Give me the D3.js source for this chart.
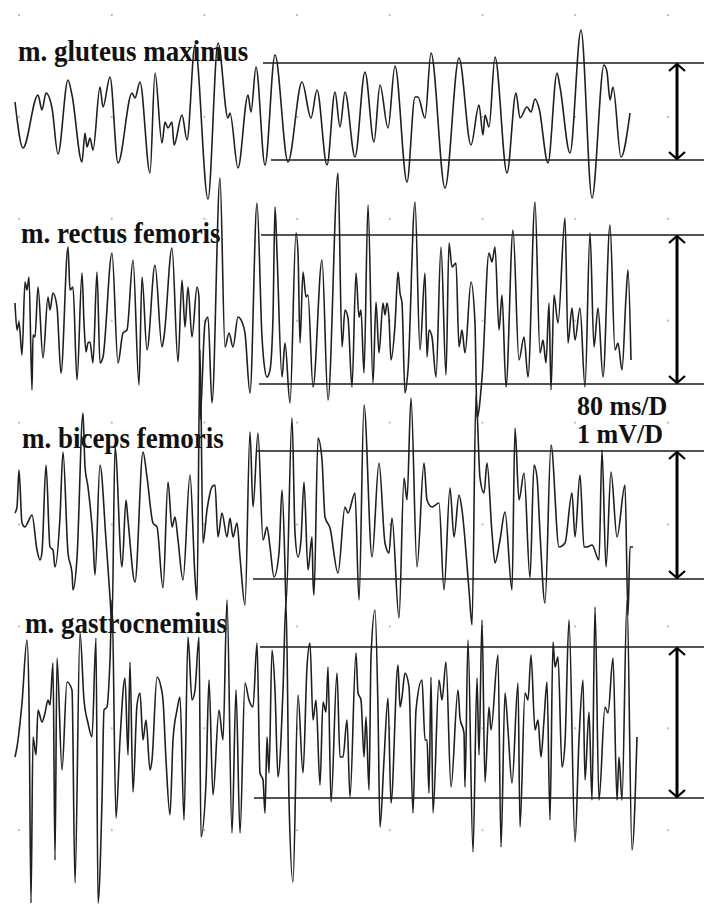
<!DOCTYPE html>
<html><head><meta charset="utf-8">
<script src="https://cdn.jsdelivr.net/npm/d3@7"></script>
<style>html,body{margin:0;padding:0;background:#fff;} svg{display:block;}</style>
</head><body>
<svg id="chart" width="704" height="906"></svg>
<script>
// ---------- DATA ----------
const muscles = ["m. gluteus maximus", "m. rectus femoris", "m. biceps femoris", "m. gastrocnemius"];
const scaleLabels = ["80 ms/D", "1 mV/D"];
const msPerDiv = 80;          // time per division
const mvPerDiv = 1;           // amplitude per division
const gridTimes = [0, 80, 160, 240, 320, 400, 480, 560];   // ms
const gridLevels = [0, 1, 2, 3, 4, 5, 6, 7, 8];            // divisions down the screen
const samplePeriodMs = 80 / 92.7;  // sample interval (ms)
const firstSample = -5;            // sample index offset of trace start before t = 0

// extrema of each trace: sample index and amplitude (µV)
const gluteusSample = [1,9,24,28,32,38,44,54,58,68,71,73,76,79,86,89,96,104,118,121,126,136,141,148,151,154,158,160,168,173,181,194,204,214,216,224,234,237,242,251,261,274,288,297,303,313,321,326,331,341,351,360,366,374,381,393,401,404,411,417,431,445,457,465,469,471,475,481,493,502,506,513,517,521,525,534,543,546,556,567,578,590,593,596,599,607,616];
const gluteusUv = [95,-365,165,15,185,35,-425,315,165,-505,-215,-355,-265,-385,245,45,345,-515,185,135,295,-615,385,-315,-105,-165,-105,-335,-35,-285,665,-875,685,-65,-15,-565,165,-5,445,-535,565,-505,295,-65,215,-535,195,-155,195,-455,395,-305,265,-165,455,-705,145,145,-65,585,-765,535,-335,65,-235,-35,-155,545,-615,185,-65,45,-5,125,35,-515,385,245,-415,815,-865,465,395,115,245,-455,-15];

const rectusSample = [1,3,5,8,11,13,15,18,19,21,24,29,34,36,39,43,47,54,56,59,63,68,70,72,74,76,79,83,86,89,98,104,109,113,119,125,128,133,141,148,150,158,164,168,171,174,178,183,185,186,191,194,198,206,211,215,219,224,228,231,236,243,248,250,253,256,259,261,263,268,271,276,282,284,286,289,292,294,299,308,314,324,328,331,334,338,342,345,347,350,354,359,362,365,369,371,373,375,377,381,384,386,388,391,394,401,406,411,413,415,418,422,427,432,435,438,442,445,448,451,457,461,463,468,475,478,481,485,488,492,499,505,510,514,521,526,529,532,535,537,540,544,551,554,558,561,566,571,576,580,584,589,596,601,604,608,612,614,617];
const rectusUv = [65,-205,-125,-455,275,195,325,-805,-255,-275,225,-485,125,-5,165,25,-635,625,195,225,-705,365,-135,-425,-335,-325,-535,375,-535,-475,565,-535,-235,-205,495,-755,325,-405,445,-375,-275,615,-525,295,-175,225,-275,225,125,-1105,-135,-75,-935,1315,-375,-235,-375,-75,-125,-235,-835,1065,-275,-535,-675,-605,-75,1025,565,-675,-335,-935,765,565,-335,375,125,145,-775,495,-905,1365,-375,-5,-85,-775,365,-75,-5,-635,1045,-735,75,-435,65,-55,65,-85,-505,-155,375,165,65,-835,-605,1075,-405,365,-475,-205,-275,-675,625,-655,665,425,465,-375,-205,-435,275,-135,-1085,-685,565,475,625,-205,145,-775,795,-505,-275,-675,1075,-435,-305,-535,65,-805,145,-135,915,-335,15,-305,15,-775,765,-375,15,-675,845,-405,-335,-605,125,395,-505];

const bicepsSample = [1,3,5,8,11,14,18,23,26,28,32,36,39,41,46,49,54,58,59,63,69,71,74,79,81,86,92,96,98,101,108,112,114,121,129,133,139,143,149,154,158,161,164,169,176,181,183,186,189,193,198,201,204,208,213,216,219,223,226,231,236,239,244,249,253,256,260,265,268,271,272,278,281,284,287,290,294,298,299,300,304,308,311,316,324,331,334,341,345,350,358,365,371,375,378,385,390,393,397,403,410,413,418,425,430,436,440,445,448,455,458,462,466,470,473,478,481,486,491,498,501,505,510,516,520,523,526,531,537,545,551,558,561,566,570,573,578,585,588,592,597,603,611,614,616,619];
const bicepsUv = [20,80,450,-80,-120,-70,0,-350,-450,-370,500,-320,-350,-520,-20,630,-380,-580,-750,-430,1020,480,280,-250,-600,500,-250,-820,-1100,680,-520,150,-50,-670,630,380,-80,-120,-730,330,-120,-20,-250,-650,400,-620,-850,1650,-280,50,280,300,-220,20,-220,-30,-220,-80,-420,-900,830,80,820,-250,-120,-320,-620,-380,250,-520,-900,970,-180,-420,-250,330,-550,-220,-650,-800,770,550,-20,-130,-580,80,20,220,-850,1100,-420,520,-280,-380,-30,-1030,370,150,1170,-520,520,150,80,120,-750,270,-220,200,50,-750,-1100,1200,370,220,520,-180,-480,-250,30,-750,870,150,420,-630,500,380,-180,-880,700,-320,-280,220,-220,400,-320,-320,-300,-450,650,-520,430,-220,300,-1000,-320,-320];

const gastroSample = [1,3,8,13,15,17,19,22,24,28,31,34,36,39,41,43,48,53,58,61,66,70,74,78,82,84,88,90,93,96,98,102,106,111,114,116,119,123,126,129,132,136,138,143,147,149,152,156,159,163,166,170,174,178,181,185,187,192,195,199,205,209,213,218,222,226,231,235,239,243,246,249,251,253,255,258,261,264,269,272,275,279,284,289,293,296,299,302,306,309,312,314,317,323,326,329,333,336,342,344,347,350,352,355,357,361,364,366,370,374,377,384,386,388,391,395,399,402,408,411,413,415,417,419,425,428,432,437,444,446,450,451,454,459,463,465,468,471,475,477,484,487,491,494,498,504,506,511,514,517,521,524,527,530,533,536,539,541,544,548,551,555,561,565,569,571,575,578,581,585,591,594,599,603,605,608,613,618,623];
const gastroUv = [-345,-245,195,825,225,-1805,-145,-325,125,5,95,225,175,595,-1375,645,-475,405,325,-1605,895,225,-5,-145,845,-1805,-775,125,155,625,1225,-955,-175,445,-325,605,-695,175,295,-175,25,-475,-375,455,355,225,-375,-925,-175,125,255,-975,855,225,325,855,-1145,-605,425,-725,125,-175,1225,-1105,325,-1105,395,225,155,795,-505,-575,-905,-145,-505,725,325,-545,325,1225,-775,-1595,275,-505,555,795,25,225,-625,205,105,555,-795,495,-345,-345,25,-745,695,295,225,-345,55,-675,655,1125,125,-1045,-375,245,-805,575,155,255,495,355,-905,125,425,-175,-175,-705,455,-905,425,225,605,-645,325,45,-105,-645,825,-1295,445,-325,1025,-595,155,-75,675,-1245,295,-75,-605,395,-1045,295,225,675,-75,25,-345,25,405,-975,805,555,655,-445,-205,1025,-1195,-175,425,-575,105,-775,1155,-775,155,95,645,-775,-345,-775,1225,-1275,-145];

// reference amplitude level (± µV) drawn for each muscle
const refLevelUv = [485, 745, 640, 755];

// ---------- LAYOUT ----------
const W = 704, H = 906;
const divX = 92.7, divY = 101.9;
const gridX0 = 19, gridY0 = 15;
const traceCenters = [111.5, 309.5, 515, 722.5];
const pxPerMv = 100;
const refStarts = [[263, 271], [261, 259], [257, 253], [260, 254]];
const labelPos = [[18, 61], [21, 243], [22, 448], [25, 633]];
const arrowX = 677;

const svg = d3.select("#chart");
svg.append("rect").attr("width", W).attr("height", H).attr("fill", "#fff");

const tScale = d3.scaleLinear().domain([0, msPerDiv]).range([gridX0, gridX0 + divX]);
const divScale = d3.scaleLinear().domain([0, 1]).range([gridY0, gridY0 + divY]);

// grid dots
const dots = [];
gridLevels.forEach(r => gridTimes.forEach(t => dots.push([t, r])));
svg.append("g").selectAll("rect").data(dots).join("rect")
  .attr("x", d => tScale(d[0]) - 1).attr("y", d => divScale(d[1]) - 1)
  .attr("width", 2).attr("height", 2).attr("fill", "#bdbdbd");

const font = "'Liberation Serif','Times New Roman',serif";

// labels
svg.append("g").selectAll("text").data(muscles).join("text")
  .attr("transform", (d, i) => `translate(${labelPos[i][0]},${labelPos[i][1]}) scale(1,1.12)`)
  .attr("font-family", font).attr("font-weight", "bold").attr("font-size", 27)
  .attr("fill", "#111").text(d => d);

svg.append("g").selectAll("text").data(scaleLabels).join("text")
  .attr("transform", (d, i) => `translate(577,${415 + i * 28}) scale(1,1.02)`)
  .attr("font-family", font).attr("font-weight", "bold").attr("font-size", 26)
  .attr("fill", "#111").text(d => d);

const traces = [
  d3.zip(gluteusSample, gluteusUv),
  d3.zip(rectusSample, rectusUv),
  d3.zip(bicepsSample, bicepsUv),
  d3.zip(gastroSample, gastroUv)
];

traces.forEach((pts, i) => {
  const c = traceCenters[i];
  const yScale = d3.scaleLinear().domain([-1000, 1000]).range([c + pxPerMv, c - pxPerMv]);
  const x = n => tScale((n + firstSample) * samplePeriodMs);
  const g = svg.append("g");
  // reference lines
  const lv = refLevelUv[i];
  [[lv, refStarts[i][0]], [-lv, refStarts[i][1]]].forEach(([v, x0]) => {
    g.append("line").attr("x1", x0).attr("x2", W)
      .attr("y1", yScale(v)).attr("y2", yScale(v))
      .attr("stroke", "#1a1a1a").attr("stroke-width", 1.3);
  });
  // double arrow
  const yt = yScale(lv), yb = yScale(-lv);
  g.append("line").attr("x1", arrowX).attr("x2", arrowX).attr("y1", yt + 1).attr("y2", yb - 1)
    .attr("stroke", "#000").attr("stroke-width", 3);
  g.append("path").attr("d", `M${arrowX - 8},${yt + 8}L${arrowX},${yt + 1}L${arrowX + 8},${yt + 8}`)
    .attr("fill", "none").attr("stroke", "#000").attr("stroke-width", 2.2);
  g.append("path").attr("d", `M${arrowX - 8},${yb - 8}L${arrowX},${yb - 1}L${arrowX + 8},${yb - 8}`)
    .attr("fill", "none").attr("stroke", "#000").attr("stroke-width", 2.2);
  // trace
  const line = d3.line().x(d => x(d[0])).y(d => yScale(d[1])).curve(d3.curveMonotoneX);
  g.append("path").datum(pts).attr("d", line)
    .attr("fill", "none").attr("stroke", "#1f1f1f").attr("stroke-width", 1.6)
    .attr("stroke-linejoin", "round");
});
</script>
</body></html>
